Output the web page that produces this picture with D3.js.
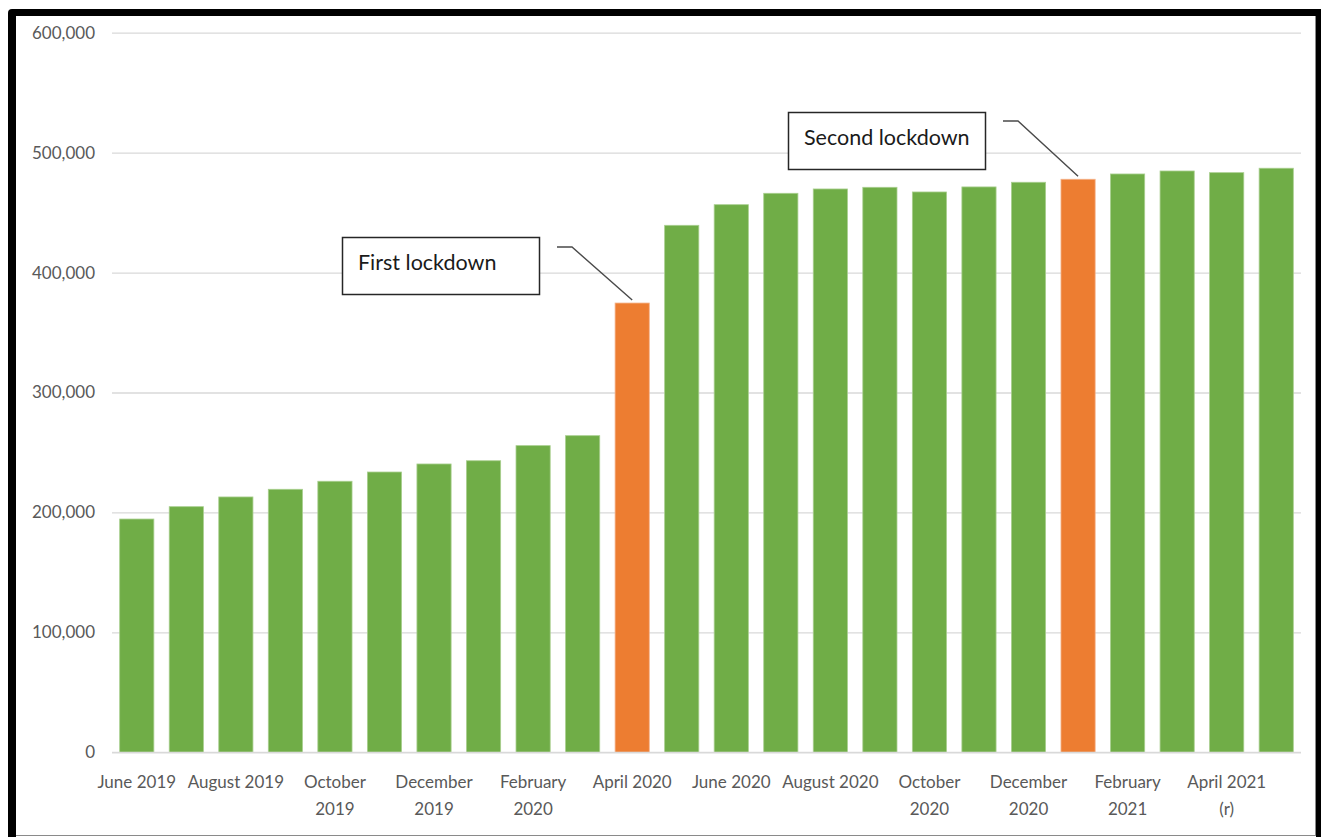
<!DOCTYPE html>
<html>
<head>
<meta charset="utf-8">
<script src="https://cdn.jsdelivr.net/npm/d3@7"></script>
<style>
  html, body { margin: 0; padding: 0; background: #ffffff; }
  svg { display: block; font-family: Lato, "Open Sans", sans-serif; }
</style>
</head>
<body>
<svg id="chart" width="1321" height="837"></svg>
<script>
// Monthly totals, June 2019 to May 2021
const months = [
  "Jun 2019", "Jul 2019", "Aug 2019", "Sep 2019", "Oct 2019", "Nov 2019",
  "Dec 2019", "Jan 2020", "Feb 2020", "Mar 2020", "Apr 2020", "May 2020",
  "Jun 2020", "Jul 2020", "Aug 2020", "Sep 2020", "Oct 2020", "Nov 2020",
  "Dec 2020", "Jan 2021", "Feb 2021", "Mar 2021", "Apr 2021", "May 2021"
];
const values = [
  194500, 204800, 212900, 219300, 226000, 233700,
  240400, 243100, 255700, 264000, 374600, 439400,
  456600, 466100, 469700, 471100, 467200, 471400,
  475300, 477800, 482200, 484700, 483300, 487000
];
// Months that carry a lockdown annotation
const lockdownMonths = ["Apr 2020", "Jan 2021"];
const lockdownLabels = ["First lockdown", "Second lockdown"];

// Every other month is labelled on the axis; "\n" splits a label over two lines
const tickMonths = [
  "Jun 2019", "Aug 2019", "Oct 2019", "Dec 2019", "Feb 2020", "Apr 2020",
  "Jun 2020", "Aug 2020", "Oct 2020", "Dec 2020", "Feb 2021", "Apr 2021"
];
const tickLabels = [
  "June 2019", "August 2019", "October\n2019", "December\n2019", "February\n2020", "April 2020",
  "June 2020", "August 2020", "October\n2020", "December\n2020", "February\n2021", "April 2021\n(r)"
];
const yTicks = [0, 100000, 200000, 300000, 400000, 500000, 600000];

const svg = d3.select("#chart");
const W = 1321, H = 837;

// Frame around the chart
svg.append("rect").attr("x", 8).attr("y", 9).attr("width", W - 8 + 4).attr("height", H).attr("rx", 4).attr("fill", "#000");
svg.append("rect").attr("x", 16).attr("y", 16).attr("width", 1300).attr("height", 819).attr("fill", "#fff");
svg.append("line").attr("x1", 16).attr("x2", 1316).attr("y1", 835.5).attr("y2", 835.5).attr("stroke", "#8a8a8a").attr("stroke-width", 1);
svg.append("line").attr("x1", 1315.5).attr("x2", 1315.5).attr("y1", 16).attr("y2", 836).attr("stroke", "#8a8a8a").attr("stroke-width", 1);
svg.append("rect").attr("x", 16).attr("y", 836).attr("width", 1300).attr("height", 1).attr("fill", "#fff");

const plot = { left: 112, right: 1301, top: 32.7, bottom: 752.3 };

const x = d3.scaleBand().domain(months).range([plot.left, plot.right]).paddingInner(0.31).paddingOuter(0.155);
const y = d3.scaleLinear().domain([0, 600000]).range([plot.bottom, plot.top]);

// Gridlines and y labels
const yAxis = d3.axisLeft(y).tickValues(yTicks).tickFormat(d3.format(",")).tickSize(-(plot.right - plot.left)).tickPadding(17);
const gy = svg.append("g").attr("transform", `translate(${plot.left},0)`).call(yAxis);
gy.select(".domain").remove();
gy.selectAll(".tick line").attr("stroke", "#d9d9d9").attr("stroke-width", 1.3);
gy.selectAll(".tick text").attr("fill", "#595959").attr("font-size", 17).attr("font-family", "Lato, sans-serif");

// Bars
svg.append("g").selectAll("rect").data(months).join("rect")
  .attr("x", d => x(d))
  .attr("width", x.bandwidth())
  .attr("y", (d, i) => y(values[i]))
  .attr("height", (d, i) => y(0) - y(values[i]))
  .attr("fill", d => lockdownMonths.includes(d) ? "#ED7D31" : "#70AD47")
  .attr("stroke", d => lockdownMonths.includes(d) ? "#f4b28a" : "#a9cf8f")
  .attr("stroke-width", 0.8);

// Baseline
svg.append("line").attr("x1", plot.left).attr("x2", plot.right).attr("y1", y(0)).attr("y2", y(0)).attr("stroke", "#d9d9d9").attr("stroke-width", 1.3);

// X labels
const xAxis = d3.axisBottom(x).tickValues(tickMonths).tickSize(0).tickPadding(0)
  .tickFormat(d => tickLabels[tickMonths.indexOf(d)]);
const gx = svg.append("g").attr("transform", `translate(0,${plot.bottom})`).call(xAxis);
gx.select(".domain").remove();
gx.selectAll(".tick text").each(function(d) {
  const t = d3.select(this);
  const lines = tickLabels[tickMonths.indexOf(d)].split("\n");
  t.text(null).attr("y", 0).attr("dy", null)
    .attr("fill", "#595959").attr("font-size", 17).attr("font-family", "Lato, sans-serif");
  lines.forEach((ln, k) => {
    t.append("tspan").attr("x", 0).attr("y", 35.5 + k * 27).text(ln);
  });
});

// Lockdown callouts: box, label and leader line to the bar top
const callouts = [
  { box: [342, 237, 197, 57], hook: [557, 247, 572] },
  { box: [788, 112, 197, 57], hook: [1003, 121, 1018] }
];
lockdownMonths.forEach((m, i) => {
  const c = callouts[i];
  const v = values[months.indexOf(m)];
  const tx = x(m) + x.bandwidth() / 2;
  const ty = y(v) - 3;
  svg.append("path")
    .attr("d", `M${c.hook[0]},${c.hook[1]}L${c.hook[2]},${c.hook[1]}L${tx},${ty}`)
    .attr("fill", "none").attr("stroke", "#4a4a4a").attr("stroke-width", 1.4);
  svg.append("rect").attr("x", c.box[0] + 0.5).attr("y", c.box[1] + 0.5)
    .attr("width", c.box[2]).attr("height", c.box[3])
    .attr("fill", "#fff").attr("stroke", "#262626").attr("stroke-width", 1.5);
  svg.append("text").attr("x", c.box[0] + 16).attr("y", c.box[1] + 33)
    .attr("font-size", 21.5).attr("fill", "#1a1a1a").attr("font-family", "Lato, sans-serif")
    .text(lockdownLabels[i]);
});
</script>
</body>
</html>
